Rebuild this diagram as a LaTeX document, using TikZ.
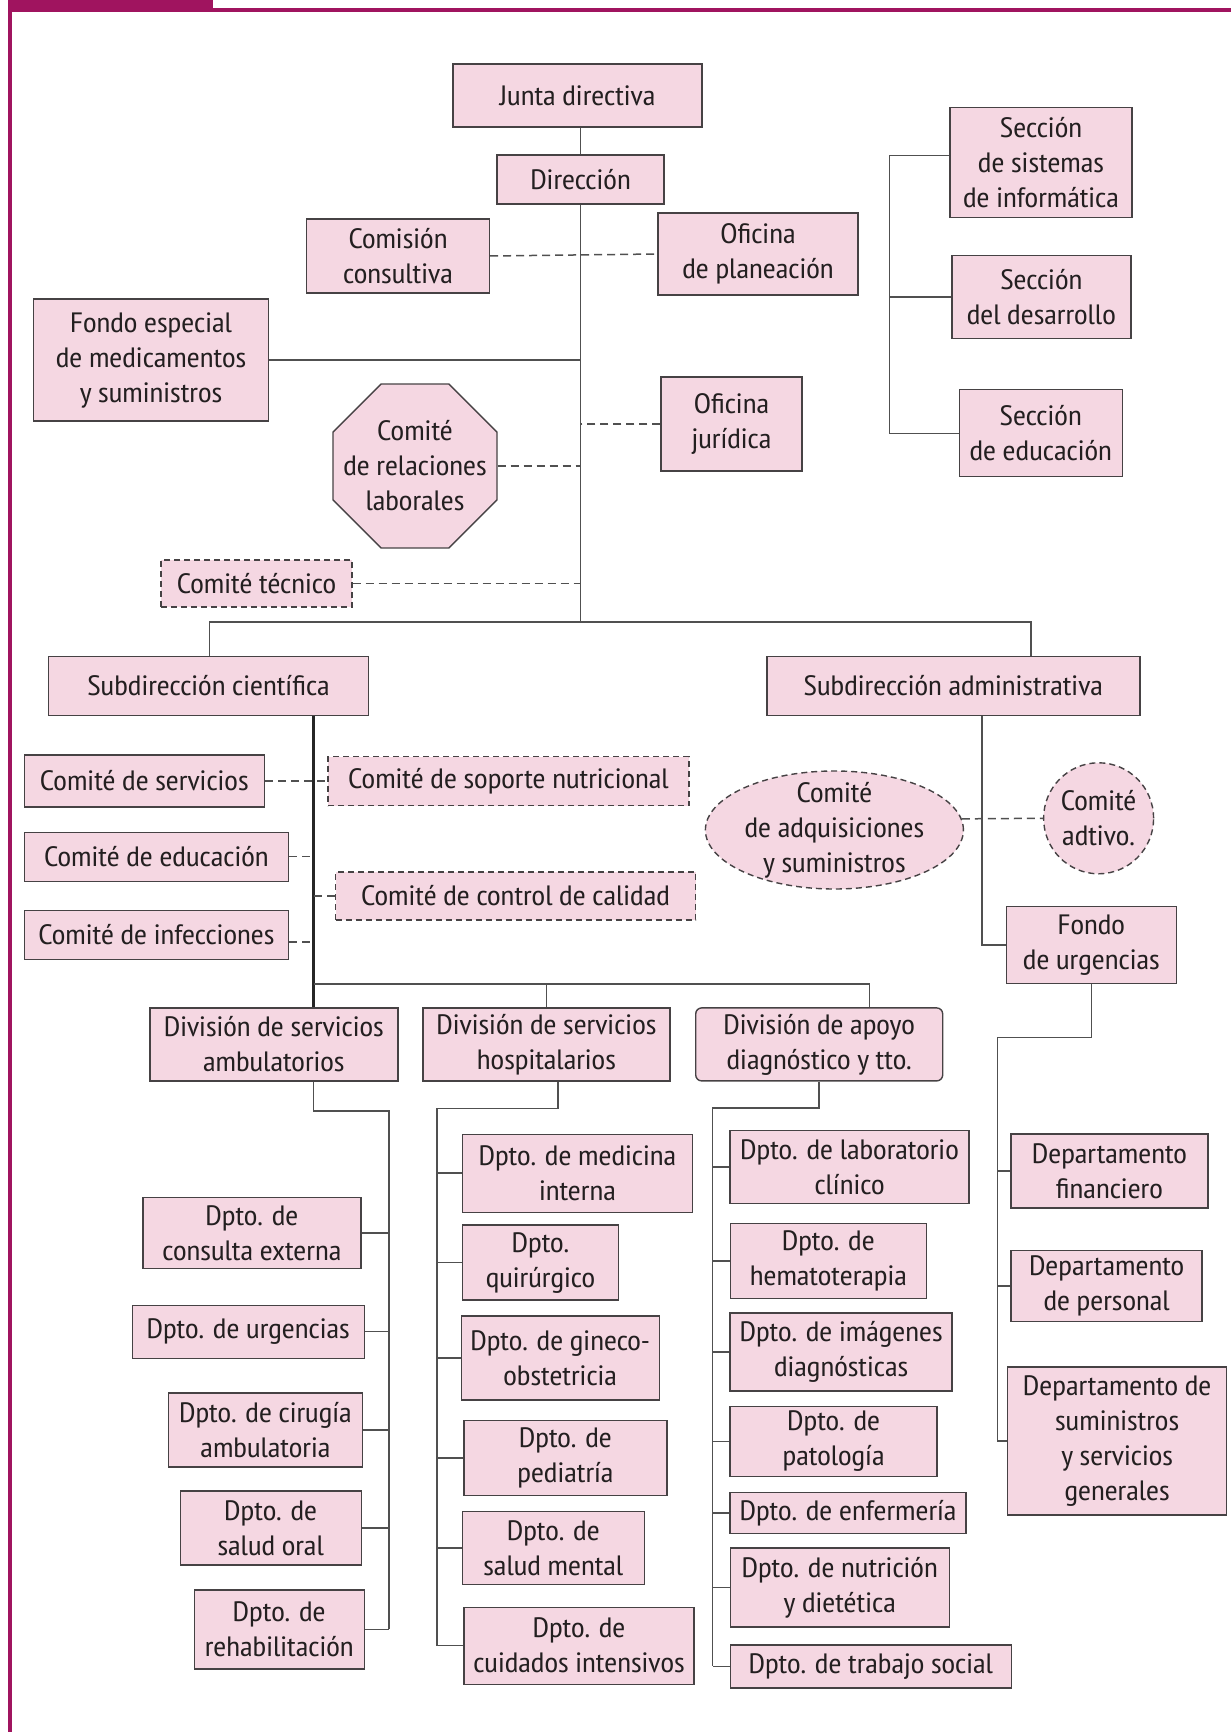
\documentclass[tikz,border=0pt]{standalone}
\usepackage{fontspec}
\setmainfont{PT Sans Narrow}[FakeStretch=1.12]
\usetikzlibrary{shapes.geometric}
\definecolor{framec}{RGB}{160,20,95}
\definecolor{boxfill}{RGB}{245,215,226}
\definecolor{boxline}{RGB}{70,66,68}
\definecolor{linec}{RGB}{80,80,80}
\definecolor{textc}{RGB}{35,31,32}
\begin{document}
\begin{tikzpicture}[x=0.5pt,y=-0.5pt,
  sz/.style 2 args={minimum width=#1*0.5pt, minimum height=#2*0.5pt},
  box/.style={draw=boxline, fill=boxfill, line width=0.7pt, inner sep=0pt,
    align=center, text=textc, font=\fontsize{14pt}{17.5pt}\selectfont},
  dbox/.style={box, dash pattern=on 3pt off 2pt},
  conn/.style={draw=linec, line width=0.75pt},
  dconn/.style={conn, dash pattern=on 4pt off 2.5pt},
  trunkline/.style={draw=black!85, line width=1.4pt},
]
\useasboundingbox (0,0) rectangle (1231,1732);

% frame and title tab
\fill[framec] (7.5,0) rectangle (213,10);
\fill[framec] (7.5,8.3) rectangle (1231,12.3);
\fill[framec] (7.5,8.3) rectangle (11.7,1732);

% top management
\node[box, sz={249}{63}] (junta) at (577.5,95.5) {Junta directiva};
\node[box, sz={167}{49}] (dir) at (580.5,179.5) {Dirección};
\node[box, sz={183}{74}] (com) at (398,256) {Comisión\\consultiva};
\node[box, sz={200}{82}] (plan) at (758,254) {Oficina\\de planeación};
\node[box, sz={235}{122}] (fondo) at (151,360) {Fondo especial\\de medicamentos\\y suministros};
\node[box, sz={141}{94}] (jur) at (731.5,424) {Oficina\\jurídica};
\node[box, shape=regular polygon, regular polygon sides=8, inner sep=-14pt,
  minimum size=88.75pt] (oct) at (415,466) {Comité\\de relaciones\\laborales};
\node[dbox, sz={191}{47}] (tec) at (256.5,583.5) {Comité técnico};

% sections
\node[box, sz={182}{110}] (sis) at (1041,162.5) {Sección\\de sistemas\\de informática};
\node[box, sz={179}{83}] (des) at (1041.3,297.2) {Sección\\del desarrollo};
\node[box, sz={163}{87}] (secedu) at (1040.7,433.3) {Sección\\de educación};

% sub-directorates
\node[box, sz={320}{59}] (sc) at (208.5,686) {Subdirección científica};
\node[box, sz={373}{59}] (sa) at (953.3,686) {Subdirección administrativa};

% committees of the scientific branch
\node[box, sz={240}{52}] (serv) at (144.3,781) {Comité de servicios};
\node[dbox, sz={361}{49}] (nutri) at (508.5,781) {Comité de soporte nutricional};
\node[box, sz={264}{49}] (cedu) at (156.4,856.7) {Comité de educación};
\node[dbox, sz={360}{48}] (cal) at (515.5,896) {Comité de control de calidad};
\node[box, sz={264}{49}] (infe) at (156.4,934.7) {Comité de infecciones};

% administrative branch
\node[dbox, ellipse, inner ysep=-6pt, sz={258}{118}] (adq) at (834.4,830) {Comité\\de adquisiciones\\y suministros};
\node[dbox, ellipse, sz={110}{111}] (adt) at (1098.6,818.3) {Comité\\adtivo.};
\node[box, sz={170}{77}] (fu) at (1091.3,945.2) {Fondo\\de urgencias};

% divisions
\node[box, sz={248}{73}] (divamb) at (273.8,1044.4) {División de servicios\\ambulatorios};
\node[box, sz={247}{73}] (divhosp) at (546.4,1044.4) {División de servicios\\hospitalarios};
\node[box, rounded corners=3pt, sz={247}{73}] (divapo) at (819.2,1044.4) {División de apoyo\\diagnóstico y tto.};

% ambulatory departments
\node[box, sz={218}{71}] (cext) at (251.9,1233) {Dpto. de\\consulta externa};
\node[box, sz={232}{53}] (urg) at (248.2,1331.7) {Dpto. de urgencias};
\node[box, sz={194}{74}] (cir) at (265.4,1429.9) {Dpto. de cirugía\\ambulatoria};
\node[box, sz={181}{74}] (sor) at (270.7,1528) {Dpto. de\\salud oral};
\node[box, sz={170}{79}] (reh) at (279.2,1629.3) {Dpto. de\\rehabilitación};

% hospital departments
\node[box, sz={230}{78}] (med) at (577.4,1173.2) {Dpto. de medicina\\interna};
\node[box, sz={156}{75}] (qui) at (540.4,1262.6) {Dpto.\\quirúrgico};
\node[box, sz={198}{84}] (gin) at (560.2,1357.8) {Dpto. de gineco-\\obstetricia};
\node[box, sz={203}{75}] (ped) at (565.4,1457.8) {Dpto. de\\pediatría};
\node[box, sz={182}{73}] (smen) at (553.3,1547.9) {Dpto. de\\salud mental};
\node[box, sz={230}{77}] (cui) at (579,1645.7) {Dpto. de\\cuidados intensivos};

% diagnostic support departments
\node[box, sz={239}{73}] (lab) at (849.5,1167.1) {Dpto. de laboratorio\\clínico};
\node[box, sz={196}{75}] (hem) at (828.3,1261.2) {Dpto. de\\hematoterapia};
\node[box, sz={222}{78}] (img) at (841.1,1351.8) {Dpto. de imágenes\\diagnósticas};
\node[box, sz={207}{70}] (pat) at (833.6,1441.4) {Dpto. de\\patología};
\node[box, sz={236}{41}] (enf) at (848,1512.8) {Dpto. de enfermería};
\node[box, sz={219}{79}] (nut) at (839.7,1587.3) {Dpto. de nutrición\\y dietética};
\node[box, sz={281}{43}] (tra) at (870.8,1666.4) {Dpto. de trabajo social};

% administrative departments
\node[box, sz={197}{74}] (fin) at (1109.4,1170.9) {Departamento\\financiero};
\node[box, sz={191}{71}] (per) at (1106.6,1286.2) {Departamento\\de personal};
\node[box, sz={219}{148}] (sum) at (1117.1,1441) {Departamento de\\suministros\\y servicios\\generales};

% junction points
\coordinate (ctop) at (580.5,622);
\coordinate (hl) at (209.6,622);
\coordinate (hr) at (1031,622);
\coordinate (tk) at (313.6,984);
\coordinate (tj) at (869.6,984);
\coordinate (sx) at (889.7,155.3);
\coordinate (sad) at (982,716);
\coordinate (ab) at (388.9,1111);
\coordinate (hd) at (557.9,1108.3);
\coordinate (hb) at (437.1,1108.3);
\coordinate (pb) at (712.7,1107.8);
\coordinate (fb) at (997.3,1037.3);

% main line
\draw[conn] (junta.south -| ctop) -- (dir.north -| ctop);
\draw[conn] (dir.south -| ctop) -- (ctop);
\draw[conn] (hl |- sc.north) -- (hl) -- (hr) -- (hr |- sa.north);
\draw[conn] (fondo.east) -- (fondo.east -| ctop);
\draw[dconn] (com.east) -- (plan.west);
\draw[dconn] (jur.west) -- (jur.west -| ctop);
\draw[dconn] (oct.east) -- (oct.east -| ctop);
\draw[dconn] (tec.east) -- (tec.east -| ctop);

% sections bracket
\coordinate (sist) at ([yshift=3.6pt]sis.west);
\draw[conn] (sist) -- (sist -| sx) -- (sx |- secedu.west) -- (secedu.west);
\draw[conn] (des.west) -- (des.west -| sx);

% scientific branch
\draw[trunkline] (tk |- sc.south) -- (tk |- divamb.north);
\draw[conn] (tk) -- (tj) -- (tj |- divapo.north);
\draw[conn] (divhosp.north |- tk) -- (divhosp.north);
\draw[dconn] (serv.east) -- (nutri.west);
\draw[dconn] (cedu.east) -- (cedu.east -| tk);
\draw[dconn] (cal.west) -- (cal.west -| tk);
\coordinate (infd) at ([yshift=-3.75pt]infe.east);
\draw[dconn] (infd) -- (infd -| tk);

% administrative branch
\draw[conn] (sad |- sa.south) -- (sad |- fu.west) -- (fu.west);
\draw[dconn] (adq.5) -- (adt.west);

% departments
\draw[conn] (tk |- divamb.south) -- (tk |- ab) -- (ab) -- (ab |- reh.east);
\foreach \d in {cext,urg,cir,sor,reh} \draw[conn] (\d.east) -- (\d.east -| ab);
\draw[conn] (hd |- divhosp.south) -- (hd) -- (hb) -- (hb |- cui.west);
\foreach \d in {med,qui,gin,ped,smen,cui} \draw[conn] (\d.west) -- (\d.west -| hb);
\draw[conn] (divapo.south) |- (pb) -- (pb |- tra.west);
\foreach \d in {lab,hem,img,pat,enf,nut,tra} \draw[conn] (\d.west) -- (\d.west -| pb);
\draw[conn] (fu.south) |- (fb) -- (fb |- sum.west);
\foreach \d in {fin,per,sum} \draw[conn] (\d.west) -- (\d.west -| fb);
\end{tikzpicture}
\end{document}
